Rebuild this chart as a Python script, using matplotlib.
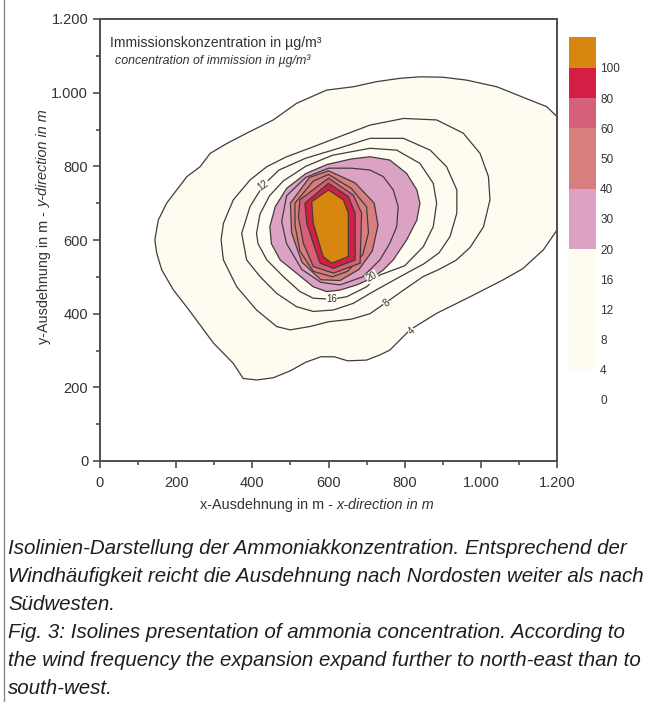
import matplotlib
matplotlib.use('Agg')
import matplotlib.pyplot as plt
import matplotlib.cm as cm
from matplotlib.colors import ListedColormap, BoundaryNorm
from matplotlib.lines import Line2D

plt.rcParams['font.family'] = ['Liberation Sans', 'DejaVu Sans']

## levels and colours of the colour scale
levels = [0, 4, 8, 12, 16, 20, 30, 40, 50, 60, 80, 100]
band_colors = ['#ffffff', '#fefbf1', '#fefbf1', '#fefbf1', '#fefbf1',
               '#dca2c4', '#dca2c4', '#d77e7e', '#d77e7e', '#d6607a', '#d21f43']
over_color = '#d7870f'

## isolines, (x, y) in m
iso4 = [(144, 600), (153, 654), (175, 700), (228, 772), (263, 799), (289, 835), (333, 862),
        (385, 890), (455, 926), (516, 971), (595, 1007), (665, 1016), (727, 1030), (788, 1039),
        (840, 1043), (900, 1042), (963, 1034), (1042, 1016), (1129, 980), (1173, 962),
        (1200, 935), (1240, 880), (1255, 760), (1240, 660), (1200, 627), (1164, 573),
        (1110, 522), (1059, 492), (972, 446), (884, 401), (814, 356), (761, 301), (735, 288),
        (700, 274), (650, 272), (615, 283), (580, 283), (540, 268), (500, 245), (455, 226),
        (411, 220), (376, 224), (350, 265), (298, 320), (263, 369), (230, 415), (193, 464),
        (162, 519), (149, 564)]
iso8 = [(318, 600), (324, 645), (350, 709), (394, 763), (438, 799), (490, 826), (560, 853),
        (630, 881), (709, 912), (797, 930), (884, 926), (954, 890), (998, 835), (1020, 772),
        (1024, 709), (1007, 636), (972, 580), (935, 545), (890, 520), (849, 501), (797, 464),
        (748, 428), (709, 400), (660, 385), (600, 378), (551, 365), (499, 356), (464, 365),
        (411, 410), (359, 473), (324, 546)]
iso12 = [(372, 618), (394, 691), (429, 749), (470, 790), (540, 822), (630, 850), (709, 876),
         (797, 876), (867, 844), (910, 799), (937, 736), (937, 673), (919, 609), (890, 565),
         (850, 535), (814, 515), (761, 485), (709, 455), (665, 428), (613, 410), (560, 406),
         (516, 419), (464, 455), (420, 501), (385, 546)]
iso16 = [(411, 618), (420, 670), (445, 720), (481, 760), (540, 800), (610, 830), (709, 849),
         (779, 844), (840, 808), (875, 754), (884, 700), (875, 636), (849, 582), (800, 530),
         (735, 505), (700, 473), (648, 446), (608, 439), (560, 442), (525, 460), (481, 501),
         (438, 546), (415, 590)]
iso20 = [(446, 636), (460, 690), (490, 740), (540, 780), (596, 805), (660, 820), (709, 826),
         (761, 817), (805, 781), (832, 736), (840, 700), (832, 654), (805, 600), (770, 546),
         (744, 519), (713, 496), (674, 478), (630, 464), (595, 460), (560, 473), (516, 510),
         (473, 546), (450, 590)]
iso30 = [(477, 650), (490, 720), (540, 770), (600, 795), (660, 795), (709, 790), (744, 772),
         (770, 736), (783, 691), (779, 636), (761, 591), (735, 546), (690, 500), (630, 478),
         (580, 485), (530, 520), (490, 590)]
iso40 = [(503, 620), (500, 700), (550, 770), (600, 788), (670, 755), (720, 700), (730, 640),
         (715, 570), (680, 520), (630, 490), (580, 492), (530, 540)]
iso50 = [(512, 640), (512, 700), (560, 760), (600, 778), (660, 740), (700, 690), (705, 620),
         (690, 560), (650, 515), (610, 500), (560, 515), (525, 570)]
iso60 = [(521, 663), (525, 709), (600, 768), (665, 722), (687, 673), (683, 537), (613, 510),
         (560, 528), (534, 591)]
iso80 = [(543, 645), (538, 700), (600, 754), (652, 718), (670, 673), (670, 546), (613, 523),
         (578, 537), (560, 591)]
iso100 = [(560, 645), (556, 704), (600, 736), (639, 709), (652, 673), (652, 555), (608, 537),
          (586, 555), (573, 600)]
isolines = [(4, iso4), (8, iso8), (12, iso12), (16, iso16), (20, iso20), (30, iso30),
            (40, iso40), (50, iso50), (60, iso60), (80, iso80), (100, iso100)]

## contour labels: text, x, y, angle
line_labels = [('12', 429, 749, 35), ('16', 608, 439, 0), ('20', 714, 500, 30),
               ('8', 752, 428, 40), ('4', 819, 352, 42)]

tick_vals = [0, 200, 400, 600, 800, 1000, 1200]
tick_text = ['0', '200', '400', '600', '800', '1.000', '1.200']

caption = ['Isolinien-Darstellung der Ammoniakkonzentration. Entsprechend der',
           'Windhäufigkeit reicht die Ausdehnung nach Nordosten weiter als nach',
           'Südwesten.',
           'Fig. 3: Isolines presentation of ammonia concentration. According to',
           'the wind frequency the expansion expand further to north-east than to',
           'south-west.']

W, H = 653, 702
ink = '#433b3b'
txt_col = '#333333'
fig = plt.figure(figsize=(W / 100, H / 100), dpi=100)
ax = fig.add_axes([100 / W, (H - 461) / H, 457 / W, 442 / H])

for lev, pts in isolines:
    i = levels.index(lev)
    fc = band_colors[i] if i < len(band_colors) else over_color
    xs, ys = zip(*pts)
    ax.fill(xs, ys, facecolor=fc, edgecolor=ink, lw=0.9, zorder=2)

for txt, x, y, rot in line_labels:
    ax.text(x, y, txt, rotation=rot, fontsize=7, color=txt_col, ha='center', va='center',
            zorder=4, bbox=dict(boxstyle='square,pad=0.05', fc=band_colors[1], ec='none'))

ax.set_xlim(0, 1200)
ax.set_ylim(0, 1200)
ax.set_xticks(tick_vals)
ax.set_xticklabels(tick_text)
ax.set_yticks(tick_vals)
ax.set_yticklabels(tick_text)
ax.set_xticks(range(100, 1200, 200), minor=True)
ax.set_yticks(range(100, 1200, 200), minor=True)
ax.tick_params(which='major', length=5, width=1.2, color='#4d4d4d', labelsize=10.5,
               labelcolor=txt_col)
ax.tick_params(axis='x', which='major', pad=6)
ax.tick_params(axis='y', which='major', pad=3.5)
ax.tick_params(which='minor', length=3, width=1.2, color='#4d4d4d')
for sp in ax.spines.values():
    sp.set_color('#4d4d4d')
    sp.set_linewidth(1.4)

ax.text(0.022, 0.937, 'Immissionskonzentration in µg/m³', transform=ax.transAxes,
        fontsize=10.2, color=txt_col, va='baseline')
ax.text(0.033, 0.898, 'concentration of immission in µg/m³', transform=ax.transAxes,
        fontsize=8.9, style='italic', color=txt_col, va='baseline')

# axis titles, German part upright, English part italic
ax.text(0.5186, -0.0995, 'x-Ausdehnung in m - ', transform=ax.transAxes, fontsize=10.4,
        color=txt_col, ha='right', va='center')
ax.text(0.5186, -0.0995, 'x-direction in m', transform=ax.transAxes, fontsize=10.4,
        color=txt_col, ha='left', va='center', style='italic')
ax.text(-0.1225, 0.5747, 'y-Ausdehnung in m - ', transform=ax.transAxes, fontsize=10.4,
        color=txt_col, ha='right', va='center', rotation=90, rotation_mode='anchor')
ax.text(-0.1225, 0.5747, 'y-direction in m', transform=ax.transAxes, fontsize=10.4,
        color=txt_col, ha='left', va='center', rotation=90, rotation_mode='anchor',
        style='italic')

## colour scale
cmap = ListedColormap(band_colors)
cmap.set_over(over_color)
norm = BoundaryNorm(levels, cmap.N)
cax = fig.add_axes([569 / W, (H - 400) / H, 27 / W, 363 / H])
cb = fig.colorbar(cm.ScalarMappable(norm=norm, cmap=cmap), cax=cax, extend='max',
                  extendrect=True, extendfrac=31 / 332, ticks=levels, spacing='uniform',
                  drawedges=False)
cb.outline.set_visible(False)
cax.tick_params(length=0, labelsize=8.5, pad=3, labelcolor=txt_col)

## frame line at the left edge
fig.add_artist(Line2D([4 / W, 4 / W], [0, 1], transform=fig.transFigure, color='#8a8a8a',
                      lw=1))

## caption
for k, line in enumerate(caption):
    fig.text(8 / W, 1 - (549 + 27.8 * k) / H, line, fontsize=14.8, style='italic',
             color='#1e1e1e', va='center')

fig.savefig('out.png', dpi=100)
